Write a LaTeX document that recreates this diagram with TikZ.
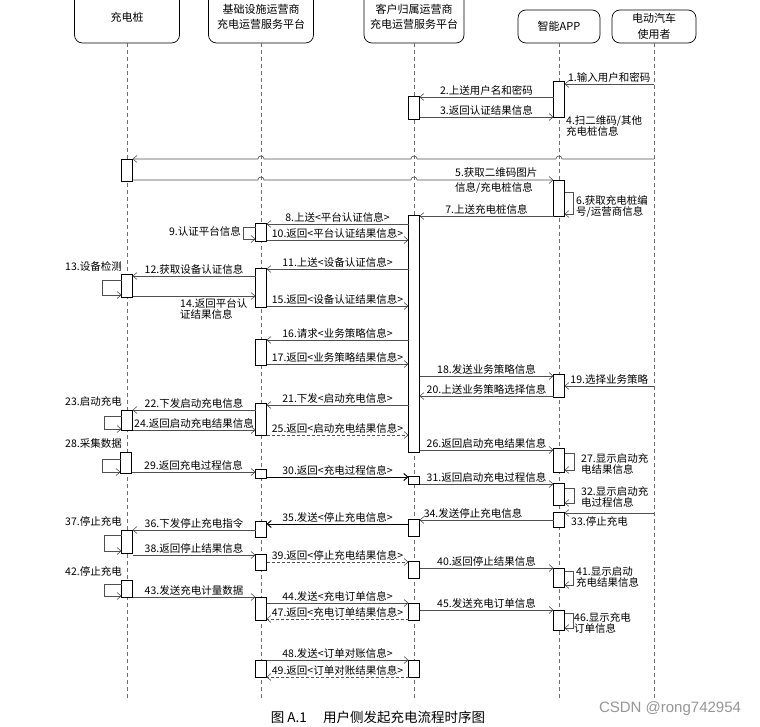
\documentclass[tikz,border=0pt]{standalone}
\usepackage{fontspec}
\setmainfont{Noto Sans CJK SC}
\newfontfamily\wmfont{Liberation Sans}
\usetikzlibrary{arrows.meta}
\definecolor{msggray}{RGB}{80,80,80}
\definecolor{lifegray}{RGB}{110,110,110}
\definecolor{markgray}{RGB}{150,150,150}

% activation box: name, x, top, bottom
\newcommand{\actbox}[4]{%
  \node[act, minimum height={#4-#3}] (#1) at (#2,{(#3+#4)/2}) {};}
% small hop over a lifeline (leftward / rightward)
\newcommand{\hopleft}[2]{-- ({#1+3},#2) .. controls +(0,-4) and +(0,-4) .. ({#1-3},#2)}
\newcommand{\hopright}[2]{-- ({#1-3},#2) .. controls +(0,-4) and +(0,-4) .. ({#1+3},#2)}

\begin{document}
\begin{tikzpicture}[x=1pt, y=-1pt,
  lifehead/.style={draw, line width=0.7pt, rounded corners=8pt, fill=white,
                   align=center, inner sep=0pt, font=\fontsize{11}{15.5}\selectfont},
  act/.style={draw, line width=0.8pt, fill=white, minimum width=11pt,
              inner sep=0pt, outer sep=0pt},
  life/.style={draw=lifegray, line width=0.5pt, dash pattern=on 4pt off 3pt},
  msg/.style={draw=msggray, line width=0.6pt, -{Straight Barb[length=4pt,width=7pt]}},
  thickmsg/.style={msg, line width=1pt, draw=black},
  ret/.style={msg, dash pattern=on 3pt off 2pt},
  lbl/.style={inner sep=1pt, font=\fontsize{10.5}{11.5}\selectfont},
  sidenote/.style={lbl, align=left, font=\fontsize{10.5}{11}\selectfont},
]
\useasboundingbox (0,0) rectangle (760,727);

% lifeline heads
\node[lifehead, minimum width=105, minimum height=52] (pile)  at (127,17) {充电桩};
\node[lifehead, minimum width=105, minimum height=52] (infra) at (261,17) {基础设施运营商\\充电运营服务平台};
\node[lifehead, minimum width=100, minimum height=52] (cust)  at (414,17) {客户归属运营商\\充电运营服务平台};
\node[lifehead, minimum width=82, minimum height=33]  (app)   at (559,26.5) {智能APP};
\node[lifehead, minimum width=84, minimum height=33]  (user)  at (654,26.5) {电动汽车\\使用者};

\foreach \who in {pile,infra,cust,app,user}
  \draw[life] (\who.south) -- (\who.south |- 0,700);

% activation boxes
\actbox{a1}{559}{81}{117}
\actbox{c1}{414}{96}{119}
\actbox{p1}{127}{159}{181}
\actbox{a2}{559}{180}{216}
\actbox{c2}{414}{215}{452}
\actbox{i1}{261}{223}{241}
\actbox{i2}{261}{268}{307}
\actbox{p2}{127}{274}{297}
\actbox{i3}{261}{339}{365}
\actbox{a3}{559}{374}{397}
\actbox{i4}{261}{403}{435}
\actbox{p3}{127}{410}{430}
\actbox{a4}{559}{448}{472}
\actbox{p4}{126}{452}{473}
\actbox{i5}{261}{469}{478}
\actbox{c3}{414}{476}{484}
\actbox{a5}{559}{483}{505}
\actbox{a6}{559}{512}{527}
\actbox{c4}{414}{519}{536}
\actbox{i6}{261}{521}{537}
\actbox{p5}{127}{530}{553}
\actbox{i7}{261}{554}{570}
\actbox{c5}{414}{561}{578}
\actbox{a7}{559}{568}{587}
\actbox{p6}{127}{580}{597}
\actbox{i8}{261}{597}{620}
\actbox{c6}{414}{603}{620}
\actbox{a8}{559}{610}{630}
\actbox{i9}{261}{660}{677}
\actbox{c7}{414}{660}{677}

% login
\draw[msg] (user.south|-0,84) -- node[lbl, above] (l1) {1.输入用户和密码} (a1.east|-0,84);
\draw[msg] (a1.west|-0,97) -- node[lbl, above] (l2) {2.上送用户名和密码} (c1.east|-0,97);
\draw[msg] (c1.east|-0,117) -- node[lbl, above] (l3) {3.返回认证结果信息} (a1.west|-0,117);
\node[sidenote, anchor=north west] (l4) at (565,114) {4.扫二维码/其他\\充电桩信息};

% scan code
\draw[msg] (user.south|-0,159) \hopleft{559}{159} \hopleft{414}{159} \hopleft{261}{159}
  -- (p1.east|-0,159);
\draw[msg] (p1.east|-0,180) \hopright{261}{180} \hopright{414}{180} -- (a2.west|-0,180);
\node[lbl, anchor=south west] (l5a) at (454,179) {5.获取二维码图片};
\node[lbl, anchor=north west] (l5b) at (454,181) {信息/充电桩信息};
\draw[msg] (a2.east|-0,192) -- ++(9,0) |- (a2.east|-0,214);
\node[sidenote, anchor=north west] (l6) at (575,194) {6.获取充电桩编\\号/运营商信息};
\draw[msg] (a2.west|-0,216) -- node[lbl, above] (l7) {7.上送充电桩信息} (c2.east|-0,216);

% platform and device authentication
\draw[msg] (c2.west|-0,224) -- node[lbl, above] (l8) {8.上送<平台认证信息>} (i1.east|-0,224);
\draw[msg] (i1.west|-0,227) -- ++(-12,0) |- (i1.west|-0,239);
\node[lbl, anchor=east] (l9) at (242,231) {9.认证平台信息};
\draw[msg] (i1.east|-0,240) -- node[lbl, above] (l10) {10.返回<平台认证结果信息>} (c2.west|-0,240);
\draw[msg] (c2.west|-0,269) -- node[lbl, above] (l11) {11.上送<设备认证信息>} (i2.east|-0,269);
\draw[msg] (i2.west|-0,276) -- node[lbl, above] (l12) {12.获取设备认证信息} (p2.east|-0,276);
\draw[msg] (p2.west|-0,280) -- ++(-19,0) |- (p2.west|-0,295);
\node[lbl, anchor=south east] (l13) at (123,273) {13.设备检测};
\draw[msg] (p2.east|-0,296) -- (i2.west|-0,296);
\node[sidenote, anchor=north west] (l14) at (179,297) {14.返回平台认\\证结果信息};
\draw[msg] (i2.east|-0,306) -- node[lbl, above] (l15) {15.返回<设备认证结果信息>} (c2.west|-0,306);

% business strategy
\draw[msg] (c2.west|-0,340) -- node[lbl, above] (l16) {16.请求<业务策略信息>} (i3.east|-0,340);
\draw[msg] (i3.east|-0,364) -- node[lbl, above] (l17) {17.返回<业务策略结果信息>} (c2.west|-0,364);
\draw[msg] (c2.east|-0,376) -- node[lbl, above] (l18) {18.发送业务策略信息} (a3.west|-0,376);
\draw[msg] (user.south|-0,386) -- node[lbl, above] (l19) {19.选择业务策略} (a3.east|-0,386);
\draw[msg] (a3.west|-0,396) -- node[lbl, above] (l20) {20.上送业务策略选择信息} (c2.east|-0,396);

% start charging
\draw[msg] (c2.west|-0,405) -- node[lbl, above] (l21) {21.下发<启动充电信息>} (i4.east|-0,405);
\draw[msg] (i4.west|-0,410) -- node[lbl, above] (l22) {22.下发启动充电信息} (p3.east|-0,410);
\draw[msg] (p3.west|-0,416) -- ++(-17,0) |- (p3.west|-0,429);
\node[lbl, anchor=south east] (l23) at (123,408) {23.启动充电};
\draw[msg] (p3.east|-0,430) -- node[lbl, above] (l24) {24.返回启动充电结果信息} (i4.west|-0,430);
\draw[ret] (i4.east|-0,435) -- node[lbl, above] (l25) {25.返回<启动充电结果信息>} (c2.west|-0,435);
\draw[msg] (c2.east|-0,450) -- node[lbl, above] (l26) {26.返回启动充电结果信息} (a4.west|-0,450);
\draw[msg] (a4.east|-0,453) -- ++(10,0) |- (a4.east|-0,470);
\node[sidenote, anchor=north west] (l27) at (580,452) {27.显示启动充\\电结果信息};

% charging process
\draw[msg] (p4.west|-0,459) -- ++(-18,0) |- (p4.west|-0,472);
\node[lbl, anchor=south east] (l28) at (123,450) {28.采集数据};
\draw[msg] (p4.east|-0,472) -- node[lbl, above] (l29) {29.返回充电过程信息} (i5.west|-0,472);
\draw[thickmsg] (i5.east|-0,477) -- node[lbl, above] (l30) {30.返回<充电过程信息>} (c3.west|-0,477);
\draw[msg] (c3.east|-0,484) -- node[lbl, above] (l31) {31.返回启动充电过程信息} (a5.west|-0,484);
\draw[msg] (a5.east|-0,488) -- ++(10,0) |- (a5.east|-0,503);
\node[sidenote, anchor=north west] (l32) at (580,485) {32.显示启动充\\电过程信息};

% stop charging
\draw[msg] (user.south|-0,513) -- (a6.east|-0,513);
\node[lbl, anchor=west] (l33) at (570,521) {33.停止充电};
\draw[msg] (a6.west|-0,520) -- node[lbl, above, pos=0.6] (l34) {34.发送停止充电信息} (c4.east|-0,520);
\draw[thickmsg] (c4.west|-0,524) -- node[lbl, above] (l35) {35.发送<停止充电信息>} (i6.east|-0,524);
\draw[msg] (i6.west|-0,530) -- node[lbl, above] (l36) {36.下发停止充电指令} (p5.east|-0,530);
\draw[msg] (p5.west|-0,535) -- ++(-17,0) |- (p5.west|-0,551);
\node[lbl, anchor=south east] (l37) at (123,528) {37.停止充电};
\draw[msg] (p5.east|-0,555) -- node[lbl, above] (l38) {38.返回停止结果信息} (i7.west|-0,555);
\draw[ret] (i7.east|-0,562) -- node[lbl, above] (l39) {39.返回<停止充电结果信息>} (c5.west|-0,562);
\draw[msg] (c5.east|-0,568) -- node[lbl, above] (l40) {40.返回停止结果信息} (a7.west|-0,568);
\draw[msg] (a7.east|-0,571) -- ++(9,0) |- (a7.east|-0,585);
\node[sidenote, anchor=north west] (l41) at (575,565) {41.显示启动\\充电结果信息};

% order
\draw[msg] (p6.west|-0,584) -- ++(-17,0) |- (p6.west|-0,596);
\node[lbl, anchor=south east] (l42) at (123,578) {42.停止充电};
\draw[msg] (p6.east|-0,597) -- node[lbl, above] (l43) {43.发送充电计量数据} (i8.west|-0,597);
\draw[msg] (i8.east|-0,603) -- node[lbl, above] (l44) {44.发送<充电订单信息>} (c6.west|-0,603);
\draw[msg] (c6.east|-0,610) -- node[lbl, above] (l45) {45.发送充电订单信息} (a8.west|-0,610);
\draw[msg] (a8.east|-0,613) -- ++(9,0) |- (a8.east|-0,628);
\node[sidenote, anchor=north west] (l46) at (573,611) {46.显示充电\\订单信息};
\draw[ret] (c6.west|-0,619) -- node[lbl, above] (l47) {47.返回<充电订单结果信息>} (i8.east|-0,619);

% reconciliation
\draw[msg] (i9.east|-0,660) -- node[lbl, above] (l48) {48.发送<订单对账信息>} (c7.west|-0,660);
\draw[ret] (c7.west|-0,677) -- node[lbl, above] (l49) {49.返回<订单对账结果信息>} (i9.east|-0,677);

\node[font=\fontsize{13.5}{15}\selectfont] (caption) at (378,717) {图 A.1\hspace{1.2em}用户侧发起充电流程时序图};
\node[font=\wmfont\fontsize{15}{17}\selectfont, text=markgray] (mark) at (670,709) {CSDN @rong742954};
\end{tikzpicture}
\end{document}
